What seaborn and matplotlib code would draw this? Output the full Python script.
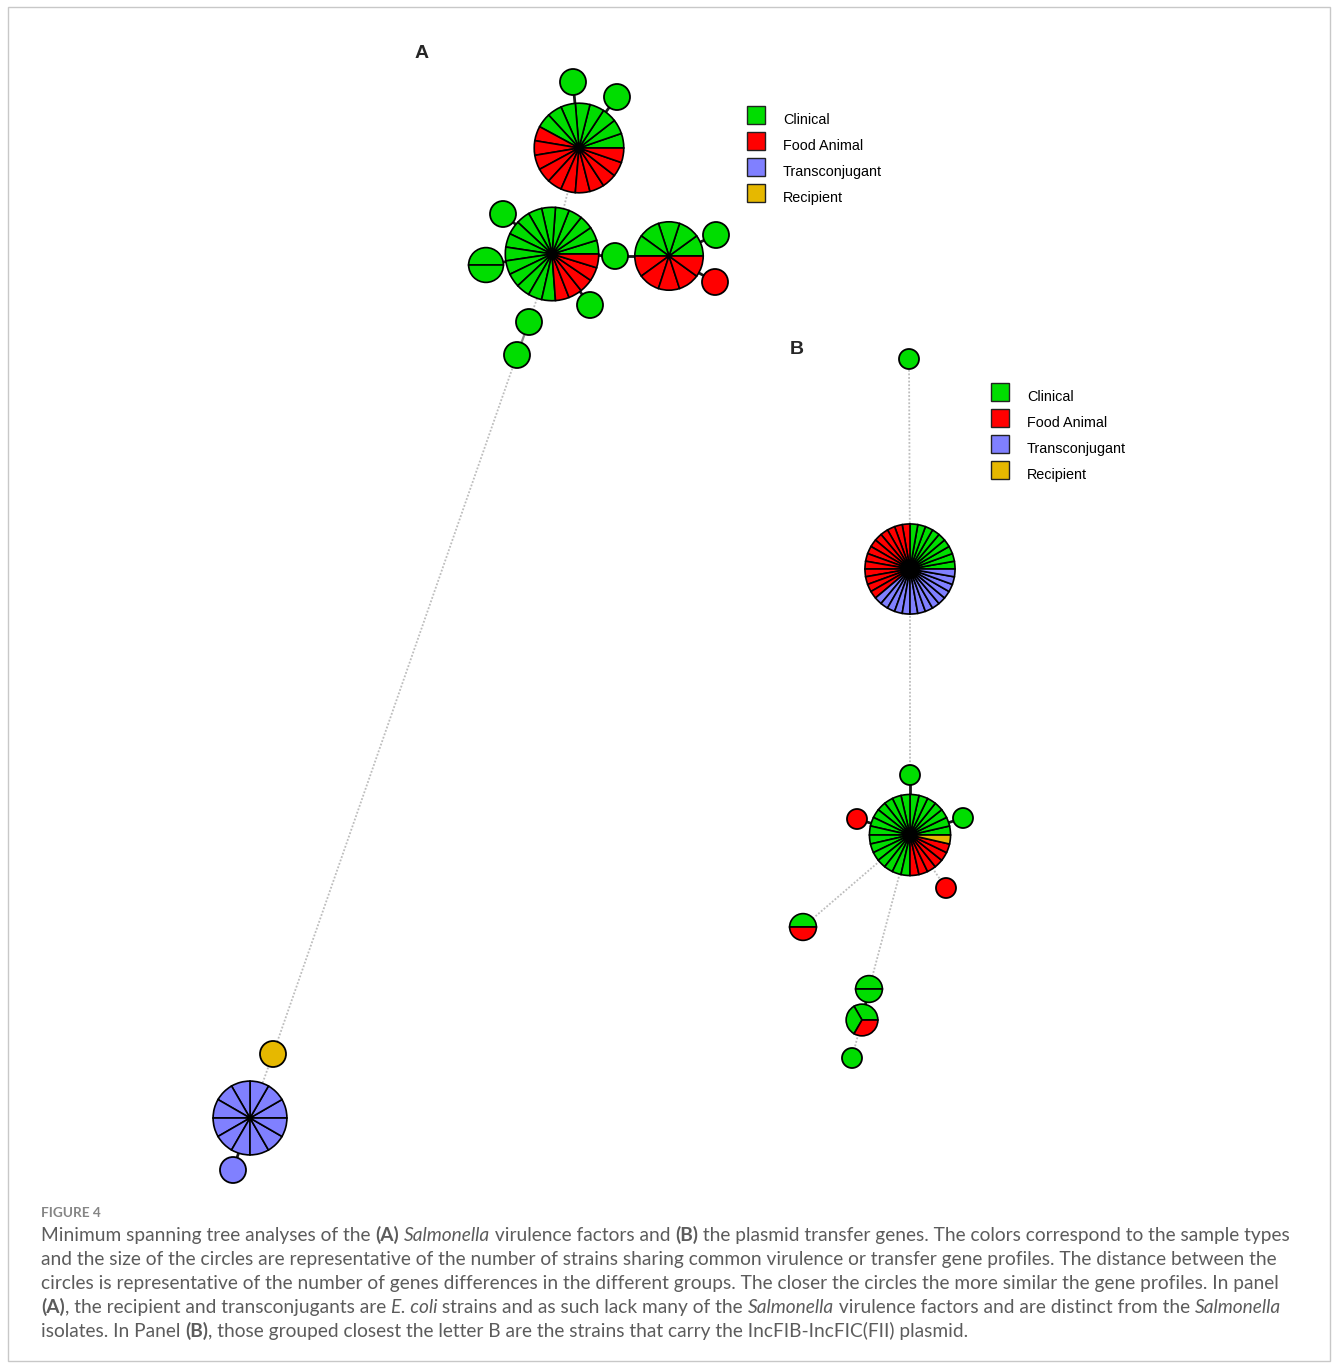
import numpy as np
import matplotlib
matplotlib.use("Agg")
import matplotlib.pyplot as plt
from matplotlib.patches import Wedge, Circle, Rectangle
import seaborn as sns

sns.set_theme(style="white")
plt.rcParams["font.family"] = ["Liberation Sans", "DejaVu Sans"]

# ---------------------------------------------------------------- data
categories = ["Clinical", "Food Animal", "Transconjugant", "Recipient"]
palette = sns.color_palette(["#00DD00", "#FF0000", "#8080FF", "#E6B800"])

# Panel A: Salmonella virulence-factor profiles (layout coordinates)
a_x = [579, 552, 669, 250, 573, 617, 503, 486, 615, 590, 529, 517, 716, 715, 273, 233]
a_y = [148, 254, 256, 1118, 82, 97, 214, 265, 256, 305, 322, 355, 235, 282, 1054, 1170]
a_clinical = [8, 16, 5, 0, 1, 1, 1, 2, 1, 1, 1, 1, 1, 0, 0, 0]
a_food = [11, 5, 5, 0, 0, 0, 0, 0, 0, 0, 0, 0, 0, 1, 0, 0]
a_transconjugant = [0, 0, 0, 12, 0, 0, 0, 0, 0, 0, 0, 0, 0, 0, 0, 1]
a_recipient = [0, 0, 0, 0, 0, 0, 0, 0, 0, 0, 0, 0, 0, 0, 1, 0]
a_edges = [(0, 4, "near"), (0, 5, "near"), (0, 1, "far"), (1, 6, "near"),
           (1, 7, "near"), (1, 8, "near"), (8, 2, "near"), (1, 9, "near"),
           (1, 10, "far"), (10, 11, "mid"), (11, 14, "far"), (14, 3, "far"),
           (3, 15, "near"), (2, 12, "near"), (2, 13, "near")]

# Panel B: plasmid transfer-gene profiles (layout coordinates)
b_x = [909, 910, 910, 910, 857, 963, 946, 803, 869, 862, 852]
b_y = [359, 569, 835, 775, 819, 818, 888, 927, 989, 1020, 1058]
b_clinical = [1, 9, 21, 1, 0, 1, 0, 1, 2, 2, 1]
b_food = [0, 13, 6, 0, 1, 0, 1, 1, 0, 1, 0]
b_transconjugant = [0, 14, 0, 0, 0, 0, 0, 0, 0, 0, 0]
b_recipient = [0, 0, 1, 0, 0, 0, 0, 0, 0, 0, 0]
b_edges = [(0, 1, "far"), (1, 2, "far"), (2, 3, "near"), (2, 4, "near"),
           (2, 5, "near"), (2, 6, "far"), (2, 7, "far"), (2, 8, "far"),
           (8, 9, "near"), (9, 10, "far")]

# ---------------------------------------------------------------- figure
W, H = 1333, 1363
fig = plt.figure(figsize=(W / 100, H / 100), dpi=100)
ax = fig.add_axes([0, 0, 1, 1])
ax.set_xlim(0, W)
ax.set_ylim(H, 0)
ax.set_aspect("equal")
ax.axis("off")

edge_style = {
    "near": dict(color="#1a1a1a", lw=2.0, ls="-"),
    "mid": dict(color="#8a8a8a", lw=1.6, ls="-"),
    "far": dict(color="#bdbdbd", lw=1.3, ls=(0, (1, 1))),
}


def draw_tree(xs, ys, counts, edges, base):
    for i, j, kind in edges:
        ax.plot([xs[i], xs[j]], [ys[i], ys[j]], zorder=1,
                solid_capstyle="butt", **edge_style[kind])
    counts = np.array(counts)
    for k in range(len(xs)):
        n = counts[:, k].sum()
        r = base * n ** 0.42
        if n == 1:
            c = palette[int(np.argmax(counts[:, k]))]
            ax.add_patch(Circle((xs[k], ys[k]), r, facecolor=c,
                                edgecolor="black", lw=1.3, zorder=3))
            continue
        step = 360.0 / n
        ang = 0.0
        for cat in range(len(categories)):
            for _ in range(counts[cat, k]):
                # y axis is inverted, so angles are mirrored to run counter-clockwise
                ax.add_patch(Wedge((xs[k], ys[k]), r, -(ang + step), -ang,
                                   facecolor=palette[cat], edgecolor="black",
                                   lw=1.2, zorder=3))
                ang += step


draw_tree(a_x, a_y, [a_clinical, a_food, a_transconjugant, a_recipient],
          a_edges, 13.0)
draw_tree(b_x, b_y, [b_clinical, b_food, b_transconjugant, b_recipient],
          b_edges, 10.0)

# panel letters
ax.text(422, 53, "A", fontsize=14, fontweight="bold", ha="center", va="center")
ax.text(797, 350, "B", fontsize=14, fontweight="bold", ha="center", va="center")


def legend(x0, y0):
    for k, name in enumerate(categories):
        y = y0 + 26 * k
        ax.add_patch(Rectangle((x0 - 9, y - 9), 18, 18, facecolor=palette[k],
                               edgecolor="#222222", lw=1.0, zorder=3))
        ax.text(x0 + 27, y + 5, name, fontsize=10.4, ha="left",
                va="center", color="black")


legend(756, 115)
legend(1000, 392)

# outer frame
fig.patches.append(Rectangle((8 / W, 1 - 1361 / H), 1322 / W, 1354 / H,
                             transform=fig.transFigure, fill=False,
                             edgecolor="#c8c8c8", lw=1.0))

# ---------------------------------------------------------------- caption
renderer = fig.canvas.get_renderer()
cap_color = "#5c5c5c"
cap_font = ["Lato", "DejaVu Sans"]


def run_width(s, size, style, weight):
    t1 = ax.text(0, 0, "|" + s + "|", fontsize=size, fontstyle=style,
                 fontweight=weight, family=cap_font)
    t2 = ax.text(0, 0, "||", fontsize=size, fontstyle=style,
                 fontweight=weight, family=cap_font)
    w = t1.get_window_extent(renderer).width - t2.get_window_extent(renderer).width
    t1.remove()
    t2.remove()
    return w


STY = {"n": ("normal", "normal"), "b": ("normal", "bold"), "i": ("italic", "normal")}

lines = [
    [("Minimum spanning tree analyses of the ", "n"), ("(A)", "b"), (" ", "n"),
     ("Salmonella", "i"), (" virulence factors and ", "n"), ("(B)", "b"),
     (" the plasmid transfer genes. The colors correspond to the sample types", "n")],
    [("and the size of the circles are representative of the number of strains sharing "
      "common virulence or transfer gene profiles. The distance between the", "n")],
    [("circles is representative of the number of genes differences in the different "
      "groups. The closer the circles the more similar the gene profiles. In panel", "n")],
    [("(A)", "b"), (", the recipient and transconjugants are ", "n"), ("E. coli", "i"),
     (" strains and as such lack many of the ", "n"), ("Salmonella", "i"),
     (" virulence factors and are distinct from the ", "n"), ("Salmonella", "i")],
    [("isolates. In Panel ", "n"), ("(B)", "b"),
     (", those grouped closest the letter B are the strains that carry the "
      "IncFIB-IncFIC(FII) plasmid.", "n")],
]

trial = 12.0
w0 = sum(run_width(s, trial, *STY[k]) for s, k in lines[0])
cap_size = trial * (1249.0 / w0)

for li, line in enumerate(lines):
    x = 41.0
    yb = 1241 + 24 * li
    for s, k in line:
        st, wt = STY[k]
        ax.text(x, yb, s, fontsize=cap_size, fontstyle=st, fontweight=wt,
                family=cap_font, color=cap_color, ha="left", va="baseline")
        x += run_width(s, cap_size, st, wt)

ax.text(41, 1217, "FIGURE 4", fontsize=9.8, fontweight="bold", family=cap_font,
        color="#858585", ha="left", va="baseline")

fig.savefig("out.png", dpi=100)
